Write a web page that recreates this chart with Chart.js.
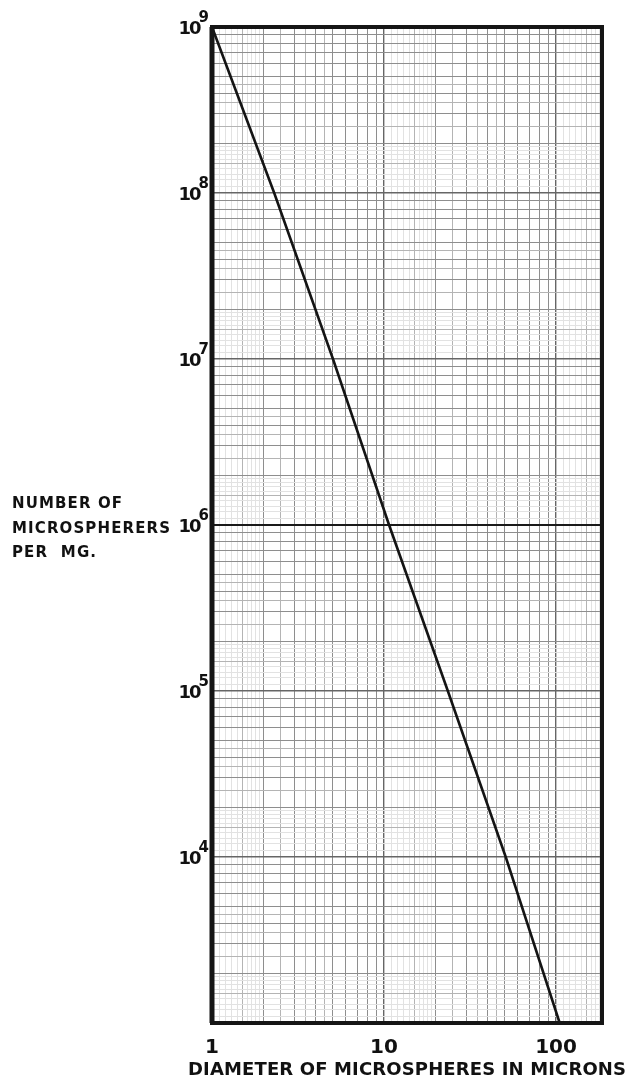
<!DOCTYPE html>
<html>
<head>
<meta charset="utf-8">
<script src="https://cdn.jsdelivr.net/npm/chart.js@4.4.1/dist/chart.umd.min.js"></script>
<style>
  html, body { margin: 0; padding: 0; background: #ffffff; }
  #wrap { width: 629px; height: 1091px; position: relative; }
</style>
</head>
<body>
<div id="wrap"><canvas id="c" width="629" height="1091"></canvas></div>
<script>
// Microsphere diameter (microns) against number of spheres per mg
const diameters = [1, 2.3, 5.05, 10.7, 23.5, 51, 105];
const counts = [1e9, 1e8, 1e7, 1e6, 1e5, 1e4, 1e3];

// Axis ranges and labelled ticks
const xRange = [1, 185];
const yRange = [1e3, 1e9];
const xTickValues = [1, 10, 100];
const xTickLabels = ['1', '10', '100'];
const yTickValues = [1e4, 1e5, 1e6, 1e7, 1e8, 1e9];
const yTickExponents = ['4', '5', '6', '7', '8', '9'];

const xTitle = 'DIAMETER OF MICROSPHERES IN MICRONS';
const yTitleLines = ['NUMBER OF', 'MICROSPHERERS', 'PER  MG.'];

const FONT = '"DejaVu Sans", "Liberation Sans", sans-serif';

// Log-paper rulings within one decade
const mainMantissas = [1, 1.5, 2, 2.5, 3, 3.5, 4, 4.5, 5, 6, 7, 8, 9];
const fineMantissas = [1.1, 1.2, 1.3, 1.4, 1.6, 1.7, 1.8, 1.9];

function paperLines(min, max) {
  const out = [];
  const e0 = Math.floor(Math.log10(min));
  const e1 = Math.ceil(Math.log10(max));
  const all = mainMantissas.concat(fineMantissas).sort((a, b) => a - b);
  for (let e = e0; e <= e1; e++) {
    for (const m of all) {
      const v = +(m * Math.pow(10, e)).toPrecision(6);
      if (v >= min * 0.9999 && v <= max * 1.0001) out.push(v);
    }
  }
  return out;
}

function kindOf(v) {
  const e = Math.floor(Math.log10(v) + 1e-9);
  const m = +(v / Math.pow(10, e)).toPrecision(6);
  if (Math.abs(m - 1) < 1e-6) return 'decade';
  if (Math.round(m) === m) return 'unit';
  if (mainMantissas.includes(m)) return 'half';
  return 'fine';
}

// the 10^6 ruling is printed heavier on this sheet
function gridColor(c) {
  if (!c.tick) return '#999';
  const k = kindOf(c.tick.value);
  const strong = c.scale.axis === 'y' && Math.abs(c.tick.value - 1e6) < 1;
  if (k === 'decade') return strong ? '#1a1a1a' : '#666666';
  if (k === 'unit') return '#8e8e8e';
  if (k === 'half') return '#b4b4b4';
  return '#e2e2e2';
}
function gridWidth(c) {
  if (!c.tick) return 1;
  const k = kindOf(c.tick.value);
  const strong = c.scale.axis === 'y' && Math.abs(c.tick.value - 1e6) < 1;
  if (k === 'decade') return strong ? 2 : 1.4;
  return 1;
}

function fitSpacing(ctx, text, width) {
  ctx.letterSpacing = '0px';
  const w0 = ctx.measureText(text).width;
  return (width - w0) / Math.max(1, text.length - 1);
}

// Frame, exponent tick labels and axis titles
const paperPlugin = {
  id: 'paper',
  afterDatasetsDraw(chart) {
    const { ctx, chartArea: a, scales } = chart;
    ctx.save();
    // heavy frame
    ctx.strokeStyle = '#151515';
    ctx.lineWidth = 4;
    ctx.strokeRect(a.left, a.top, a.right - a.left, a.bottom - a.top);
    ctx.lineWidth = 5;
    ctx.beginPath();
    ctx.moveTo(a.left, a.top);
    ctx.lineTo(a.left, a.bottom);
    ctx.stroke();

    // y tick labels: 10 with raised exponent
    ctx.fillStyle = '#111';
    ctx.textBaseline = 'alphabetic';
    yTickValues.forEach((v, i) => {
      const y = scales.y.getPixelForValue(v);
      ctx.font = 'bold 15px ' + FONT;
      ctx.letterSpacing = '-1px';
      ctx.textAlign = 'right';
      const expW = ctx.measureText(yTickExponents[i]).width;
      const right = a.left - 4;
      ctx.fillText(yTickExponents[i], right, y - 5);
      ctx.font = 'bold 18px ' + FONT;
      ctx.letterSpacing = '-2px';
      ctx.fillText('10', right - expW + 1, y + 7);
    });

    // y title, left aligned beside the axis
    ctx.font = 'bold 15px ' + FONT;
    ctx.textAlign = 'left';
    const ls = fitSpacing(ctx, yTitleLines[1], 158);
    ctx.letterSpacing = ls.toFixed(2) + 'px';
    const yMid = scales.y.getPixelForValue(1e6);
    [-22, 3, 27].forEach((dy, i) => {
      ctx.fillText(yTitleLines[i], 12, yMid + dy + 5);
    });

    // x title
    ctx.font = 'bold 18px ' + FONT;
    const lx = fitSpacing(ctx, xTitle, 438);
    ctx.letterSpacing = lx.toFixed(2) + 'px';
    ctx.textAlign = 'left';
    ctx.fillText(xTitle, 188, 1075);
    ctx.restore();
  }
};

new Chart(document.getElementById('c').getContext('2d'), {
  type: 'line',
  data: {
    datasets: [{
      data: diameters.map((d, i) => ({ x: d, y: counts[i] })),
      borderColor: '#141414',
      borderWidth: 2.6,
      pointRadius: 0,
      tension: 0,
      fill: false
    }]
  },
  options: {
    responsive: false,
    animation: false,
    layout: { padding: { top: 27, right: 27, left: 0, bottom: 0 } },
    plugins: { legend: { display: false }, tooltip: { enabled: false } },
    scales: {
      x: {
        type: 'logarithmic',
        min: xRange[0],
        max: xRange[1],
        afterBuildTicks: s => { s.ticks = paperLines(xRange[0], xRange[1]).map(v => ({ value: v })); },
        afterFit: s => { s.height = 68; },
        border: { display: false },
        grid: { color: gridColor, lineWidth: gridWidth, drawTicks: false },
        ticks: {
          autoSkip: false,
          maxRotation: 0,
          minRotation: 0,
          padding: 13,
          color: '#111',
          font: { family: FONT, size: 20, weight: 'bold' },
          callback: v => {
            const i = xTickValues.findIndex(t => Math.abs(t - v) < 1e-6);
            return i >= 0 ? xTickLabels[i] : '';
          }
        }
      },
      y: {
        type: 'logarithmic',
        min: yRange[0],
        max: yRange[1],
        afterBuildTicks: s => { s.ticks = paperLines(yRange[0], yRange[1]).map(v => ({ value: v })); },
        afterFit: s => { s.width = 212; },
        border: { display: false },
        grid: { color: gridColor, lineWidth: gridWidth, drawTicks: false },
        ticks: { display: false }
      }
    }
  },
  plugins: [paperPlugin]
});
</script>
</body>
</html>
